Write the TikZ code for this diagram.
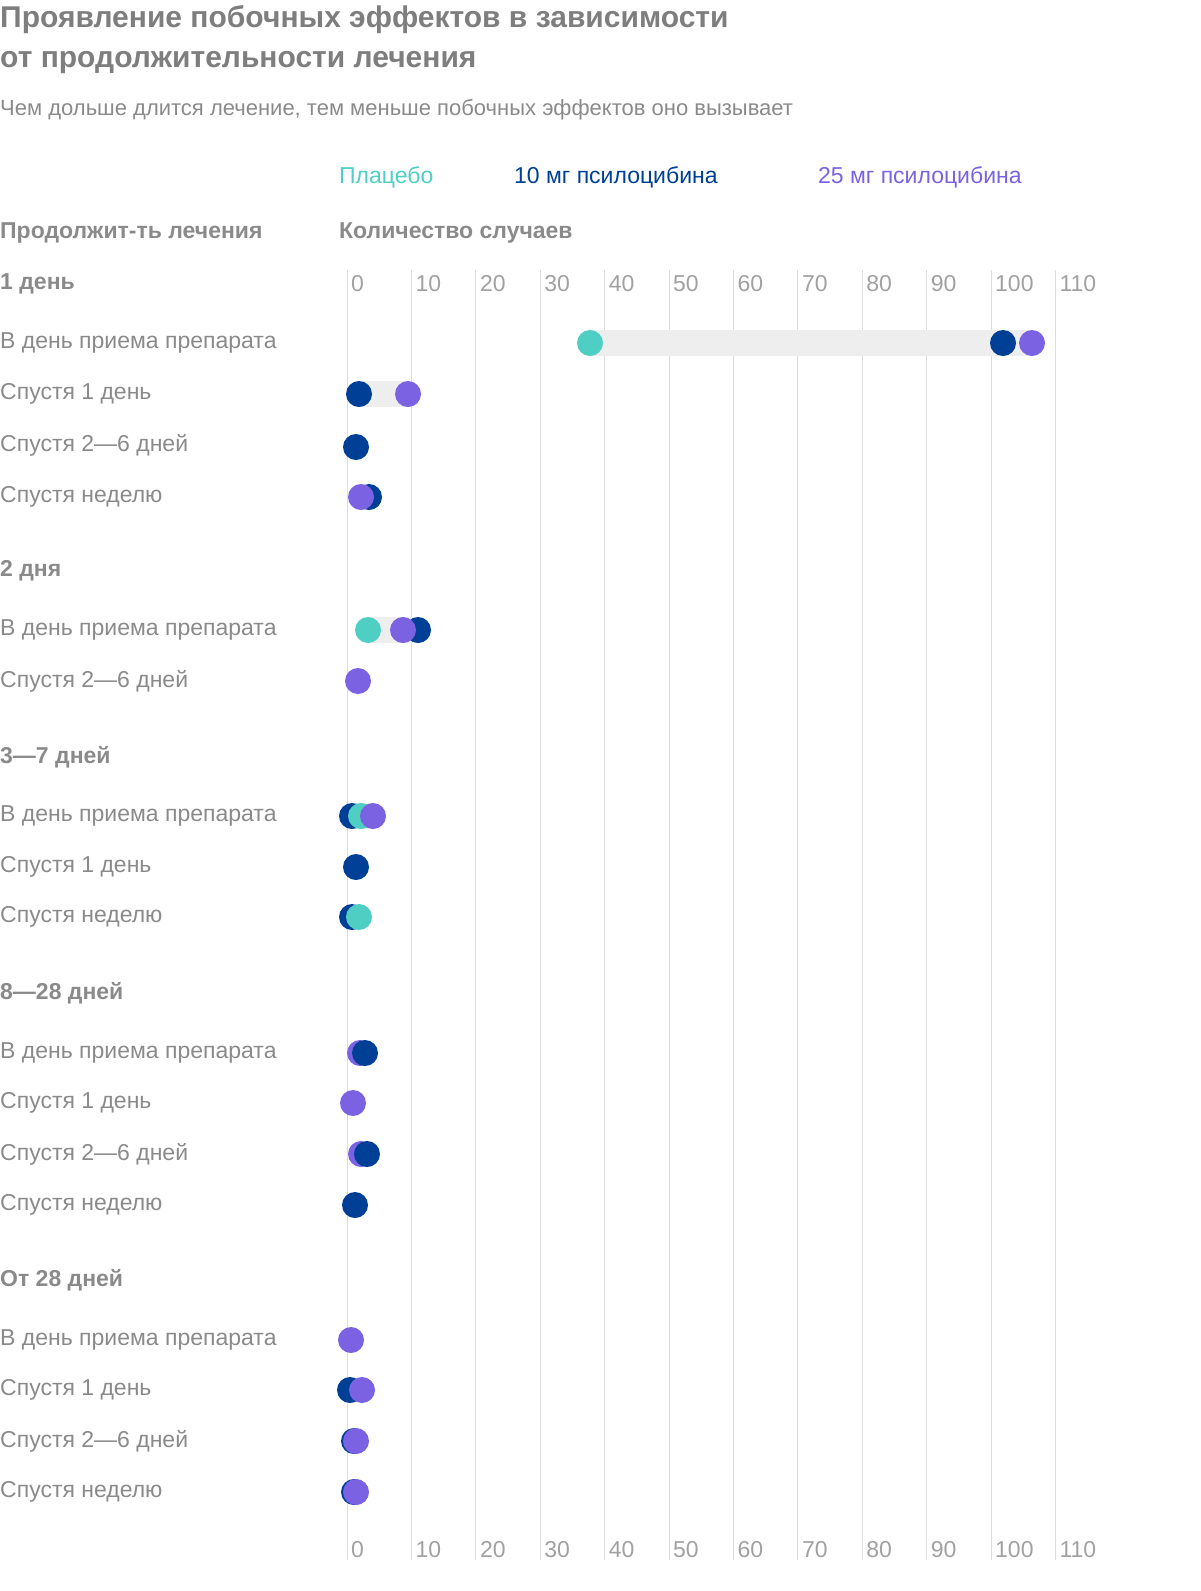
\documentclass[tikz,border=0pt]{standalone}
\usepackage{fontspec}
\setmainfont{Liberation Sans}
\definecolor{plac}{HTML}{4FCFC3}
\definecolor{tenmg}{HTML}{003F96}
\definecolor{tfmg}{HTML}{7B62E3}
\definecolor{txt}{HTML}{8A8A8A}
\definecolor{grid}{HTML}{DDDDDD}
\definecolor{band}{HTML}{EEEEEE}
\tikzset{
  rowlab/.style={anchor=west,inner sep=0pt,text=txt,font=\fontsize{23}{23}\selectfont},
  grplab/.style={anchor=west,inner sep=0pt,text=txt,font=\fontsize{23}{23}\selectfont\bfseries},
  ticklab/.style={anchor=west,inner sep=0pt,text=txt!80,font=\fontsize{23}{23}\selectfont},
}
% one dot at pixel position
\newcommand{\dt}[3]{\fill[#3] (#1,#2) circle (13);}
\begin{document}
\begin{tikzpicture}[x=1pt,y=-1pt]
\useasboundingbox (0,0) rectangle (1200,1591);
% titles
\node[anchor=west,inner sep=0pt,text=txt!110,font=\fontsize{30}{30}\selectfont\bfseries] (t1) at (0,20) {Проявление побочных эффектов в зависимости};
\node[anchor=west,inner sep=0pt,text=txt!110,font=\fontsize{30}{30}\selectfont\bfseries] (t2) at (0,63) {от продолжительности лечения};
\node[rowlab,font=\fontsize{22}{22}\selectfont] (sub) at (0,110) {Чем дольше длится лечение, тем меньше побочных эффектов оно вызывает};
% legend
\node[rowlab,text=plac] (lp) at (339,177) {Плацебо};
\node[rowlab,text=tenmg] (l10) at (514,177) {10 мг псилоцибина};
\node[rowlab,text=tfmg] (l25) at (818,177) {25 мг псилоцибина};
\node[grplab] (h1) at (0,233) {Продолжит-ть лечения};
\node[grplab] (h2) at (339,233) {Количество случаев};
% grid
\foreach \v in {0,10,...,110} {
  \draw[grid,line width=1] ({347+6.44*\v},270) -- ({347+6.44*\v},1560);
  \node[ticklab] at ({351+6.44*\v},284) {\v};
  \node[ticklab] at ({351+6.44*\v},1550) {\v};
}
% groups
\node[grplab] (g1) at (0,284) {1 день};
\node[grplab] (g2) at (0,571) {2 дня};
\node[grplab] (g3) at (0,757) {3—7 дней};
\node[grplab] (g4) at (0,993) {8—28 дней};
\node[grplab] (g5) at (0,1280) {От 28 дней};
\foreach \y/\t in {343/В день приема препарата,394/Спустя 1 день,445/Спустя 2—6 дней,497/Спустя неделю,
  630/В день приема препарата,681/Спустя 2—6 дней,
  816/В день приема препарата,867/Спустя 1 день,917/Спустя неделю,
  1053/В день приема препарата,1103/Спустя 1 день,1154/Спустя 2—6 дней,1205/Спустя неделю,
  1340/В день приема препарата,1390/Спустя 1 день,1441/Спустя 2—6 дней,1492/Спустя неделю}
  \node[rowlab] at (0,\y) {\t};
% bands
\fill[band] (590,330) rectangle (1032,356);
\fill[band] (359,381) rectangle (408,407);
\fill[band] (368,617) rectangle (418,643);
\fill[band] (352,803) rectangle (373,829);
% dots
\dt{590}{343}{plac}\dt{1003}{343}{tenmg}\dt{1032}{343}{tfmg}
\dt{359}{394}{tenmg}\dt{408}{394}{tfmg}
\dt{356}{447}{tenmg}
\dt{369}{497}{tenmg}\dt{361}{497}{tfmg}
\dt{418}{630}{tenmg}\dt{368}{630}{plac}\dt{403}{630}{tfmg}
\dt{358}{681}{tfmg}
\dt{352}{816}{tenmg}\dt{361}{816}{plac}\dt{373}{816}{tfmg}
\dt{356}{867}{tenmg}
\dt{352}{917}{tenmg}\dt{359}{917}{plac}
\dt{360}{1053}{tfmg}\dt{365}{1053}{tenmg}
\dt{353}{1103}{tfmg}
\dt{361}{1154}{tfmg}\dt{367}{1154}{tenmg}
\dt{355}{1205}{tenmg}
\dt{351}{1340}{tfmg}
\dt{350}{1390}{tenmg}\dt{362}{1390}{tfmg}
\dt{354}{1441}{tenmg}\dt{356}{1441}{tfmg}
\dt{354}{1492}{tenmg}\dt{356}{1492}{tfmg}
\end{tikzpicture}
\end{document}
